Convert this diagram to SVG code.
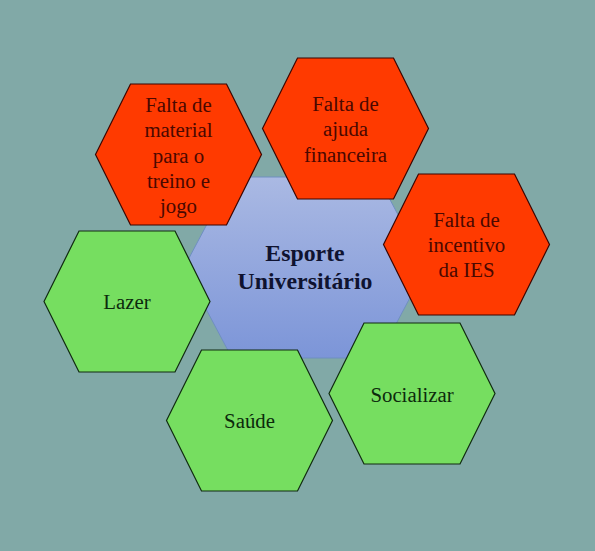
<svg xmlns="http://www.w3.org/2000/svg" xmlns:xlink="http://www.w3.org/1999/xlink" width="595" height="551" viewBox="0 0 595 551">
<style>
  .red { fill: #ff3a00; stroke: #3a0500; stroke-width: 1.2; }
  .green { fill: #76de60; stroke: #102a10; stroke-width: 1.2; }
  .t { font-family: "Liberation Serif", "Times New Roman", serif; font-size: 20.8px; text-anchor: middle; }
  .tr { fill: #4a0800; }
  .tg { fill: #0c2a0c; }
  .tc { font-family: "Liberation Serif", "Times New Roman", serif; font-size: 23.8px; font-weight: bold; text-anchor: middle; fill: #0f1330; }
</style>
<defs>
  <polygon id="hex" points="-83,0 -48,-70.5 48,-70.5 83,0 48,70.5 -48,70.5"/>
  <linearGradient id="gc" x1="0" y1="0" x2="0" y2="1">
    <stop offset="0" stop-color="#aab9e3"/>
    <stop offset="1" stop-color="#7c95d8"/>
  </linearGradient>
</defs>
<rect width="595" height="551" fill="#81a9a7"/>
<g id="connectors"></g>
<g id="center">
  <polygon points="184,267.5 232,177 378,177 426,267.5 378,358 232,358" fill="url(#gc)" stroke="#6f8fc0" stroke-width="1"/>
  <text class="tc" x="305" y="261">Esporte</text>
  <text class="tc" x="305" y="288.5">Universitário</text>
</g>
<g id="material">
  <use xlink:href="#hex" class="red" x="178.5" y="154.5"/>
  <text class="t tr" x="178.5" y="111.5">Falta de</text>
  <text class="t tr" x="178.5" y="137">material</text>
  <text class="t tr" x="178.5" y="162.5">para o</text>
  <text class="t tr" x="178.5" y="188">treino e</text>
  <text class="t tr" x="178.5" y="213">jogo</text>
</g>
<g id="ajuda">
  <use xlink:href="#hex" class="red" x="345.5" y="128.5"/>
  <text class="t tr" x="345.5" y="110.5">Falta de</text>
  <text class="t tr" x="345.5" y="136">ajuda</text>
  <text class="t tr" x="345.5" y="161.5">financeira</text>
</g>
<g id="incentivo">
  <use xlink:href="#hex" class="red" x="466.5" y="244.5"/>
  <text class="t tr" x="466.5" y="226.5">Falta de</text>
  <text class="t tr" x="466.5" y="252">incentivo</text>
  <text class="t tr" x="466.5" y="277">da IES</text>
</g>
<g id="lazer">
  <use xlink:href="#hex" class="green" x="127" y="301.5"/>
  <text class="t tg" x="127" y="309">Lazer</text>
</g>
<g id="saude">
  <use xlink:href="#hex" class="green" x="249.5" y="420.5"/>
  <text class="t tg" x="249.5" y="428">Saúde</text>
</g>
<g id="socializar">
  <use xlink:href="#hex" class="green" x="412" y="393.5"/>
  <text class="t tg" x="412" y="401.5">Socializar</text>
</g>
</svg>
